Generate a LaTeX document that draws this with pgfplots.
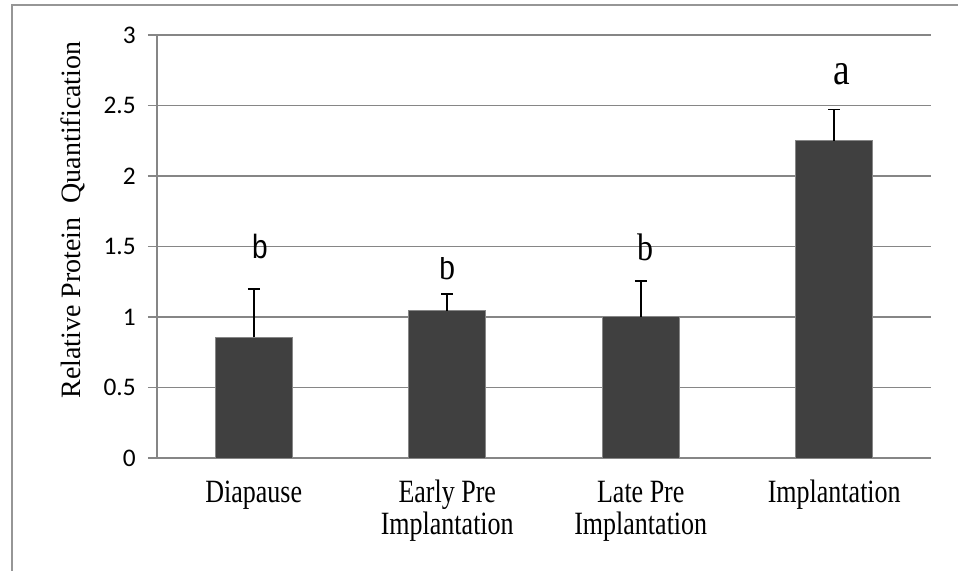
\documentclass[border=0pt]{standalone}
\usepackage{pgfplots}
\pgfplotsset{compat=1.18}
\usepackage{fontspec}
\setmainfont{Liberation Serif}
\newfontfamily\ticksfont{Carlito}
\newfontfamily\sansfont{Liberation Sans}
\definecolor{axisgray}{RGB}{134,134,134}
\definecolor{framegray}{RGB}{150,150,150}
\definecolor{bargray}{RGB}{64,64,64}
% category labels: serif, slightly tall
\newcommand\catlabel[1]{\scalebox{1}[1.25]{\fontsize{19.5}{19.2}\selectfont\begin{tabular}{@{}c@{}}#1\end{tabular}}}
\newcommand\letter[2]{\scalebox{1}[1.2]{\fontsize{#1}{#1}\selectfont #2}}
\begin{document}
\begin{tikzpicture}
\useasboundingbox (0,0) rectangle (718.5pt,428.25pt);
% outer frame (top and left edges)
\draw[framegray, line width=1.5pt] (9pt,0pt) -- (9pt,424.5pt) -- (718.5pt,424.5pt);
% y axis title
\node[rotate=90, font=\fontsize{21}{24}\selectfont] at (54.75pt,263.25pt) {Relative Protein~ Quantification};
\begin{axis}[
  at={(117.75pt,84.75pt)}, anchor=south west,
  scale only axis, width=580.5pt, height=317.25pt,
  xmin=-0.5, xmax=3.5, ymin=0, ymax=3,
  axis lines=left, axis line style={-, axisgray, line width=1.2pt},
  ytick={0,0.5,...,3},
  yticklabels={0,0.5,1,1.5,2,2.5,3},
  ymajorgrids, grid style={axisgray, line width=1pt},
  major tick length=6.75pt, tick align=outside,
  tick style={axisgray, line width=1pt},
  yticklabel style={font=\ticksfont\fontsize{19}{21}\selectfont, xshift=-5.7pt},
  xtick={0,1,2,3},
  xticklabels={\catlabel{Diapause}, \catlabel{Early Pre\\Implantation}, \catlabel{Late Pre\\Implantation}, \catlabel{Implantation}},
  xticklabel style={anchor=north, yshift=-6pt},
  x tick style={draw=none},
  extra x ticks={-0.5,0.5,1.5,2.5,3.5},
  extra x tick labels={},
  extra x tick style={tick style={axisgray, line width=1pt, draw=axisgray}, major tick length=6pt},
  clip=false,
]
\addplot[ybar, bar width=57.75pt, fill=bargray, draw=axisgray, line width=0.6pt,
  error bars/.cd, y dir=plus, y explicit,
  error bar style={black, line width=1.2pt},
  error mark options={black, line width=1.2pt, mark size=4.5pt, rotate=90}]
  table[x=x, y=y, y error=e] {
  x y e
  0 0.855 0.345
  1 1.045 0.120
  2 1.002 0.255
  3 2.250 0.222
};
% significance letters
\node[anchor=base, inner sep=0pt, font=\sansfont] at (axis cs:0.032,1.418) {\letter{21}{b}};
\begin{scope}
  % this letter is cut off along its top
  \clip (axis cs:0.85,1.2) rectangle (axis cs:1.15,1.425);
  \node[anchor=base, inner sep=0pt] at (axis cs:1.0,1.265) {\letter{24}{b}};
\end{scope}
\node[anchor=base, inner sep=0pt] at (axis cs:2.027,1.404) {\letter{24}{b}};
\node[anchor=base, inner sep=0pt] at (axis cs:3.04,2.652) {\letter{28}{a}};
\end{axis}
\end{tikzpicture}
\end{document}
